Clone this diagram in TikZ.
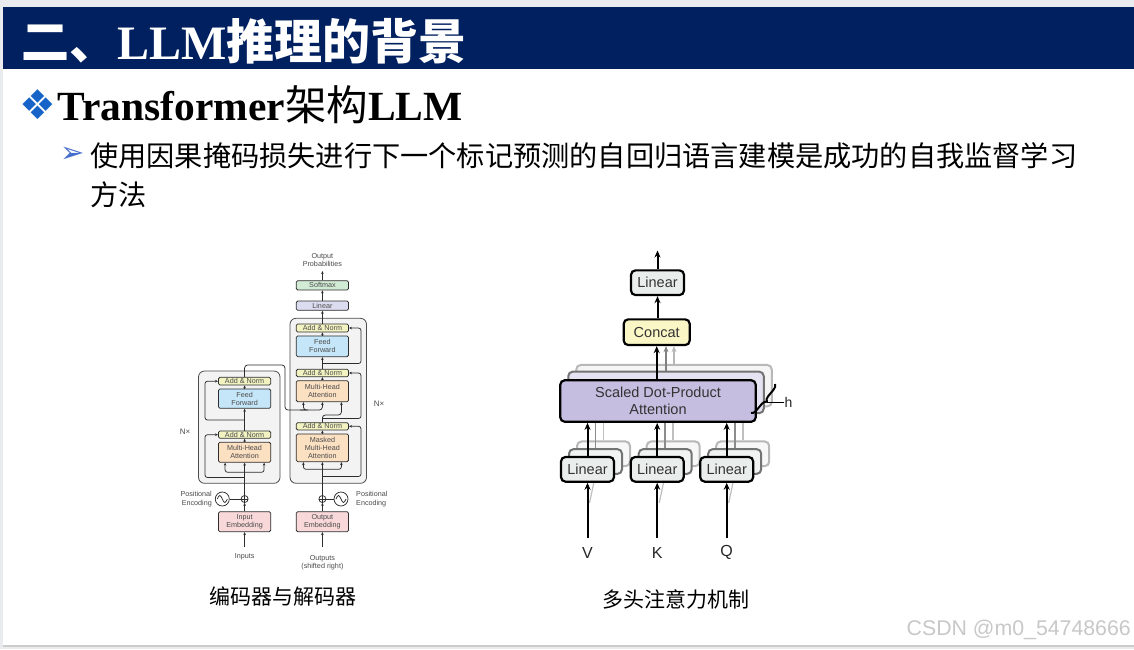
\documentclass[tikz,border=0pt]{standalone}
\usepackage{fontspec}
\setmainfont{Liberation Serif}
\newfontfamily\cjk{Noto Sans CJK SC}
\newfontfamily\sans{Liberation Sans}
\newfontfamily\dejavu{DejaVu Sans}
\usetikzlibrary{arrows.meta,decorations.pathreplacing,calc}
\definecolor{pagegray}{RGB}{233,235,238}
\definecolor{navy}{RGB}{0,32,96}
\definecolor{bulletblue}{RGB}{22,100,200}
\definecolor{arrowblue}{RGB}{70,110,205}
\definecolor{cLine}{RGB}{45,45,45}
\definecolor{cText}{RGB}{75,75,75}
\definecolor{stackfill}{RGB}{243,243,243}
\definecolor{anfill}{RGB}{242,243,193}
\definecolor{fffill}{RGB}{196,230,248}
\definecolor{mhafill}{RGB}{252,224,194}
\definecolor{embfill}{RGB}{248,216,216}
\definecolor{linfill}{RGB}{220,220,240}
\definecolor{smfill}{RGB}{210,235,212}
\definecolor{mlinfill}{RGB}{233,238,236}
\definecolor{concatfill}{RGB}{250,246,197}
\definecolor{sdpafill}{RGB}{197,190,224}
\definecolor{wmgray}{RGB}{200,200,200}
\tikzset{
  tbox/.style={draw=cLine, line width=0.75pt, rounded corners=1.5pt, minimum width=52.4pt, inner sep=0pt,
    font=\sans\fontsize{7.2}{8.2}\selectfont, text=cText, align=center},
  ttxt/.style={font=\sans\fontsize{7.2}{8.4}\selectfont, text=cText, align=center, inner sep=0pt},
  tarr/.style={draw=cLine, line width=0.75pt, -{Stealth[length=3pt,width=2.6pt]}},
  tln/.style={draw=cLine, line width=0.75pt},
  stackbox/.style={draw=cLine!85, line width=0.8pt, fill=stackfill, rounded corners=6pt, inner sep=0pt},
  mbox/.style={draw=black, line width=2.2pt, rounded corners=4.5pt, inner sep=0pt,
    font=\sans\fontsize{14.5}{17}\selectfont, text=black!80, align=center},
  mshadowA/.style={draw=black!55, line width=2pt, rounded corners=4.5pt, inner sep=0pt},
  mshadowB/.style={draw=black!28, line width=2pt, rounded corners=4.5pt, inner sep=0pt},
  marr/.style={draw=black, line width=2pt, -{Stealth[length=7pt,width=6pt]}},
}
\begin{document}
\begin{tikzpicture}[x=1pt,y=-1pt]
\useasboundingbox (0,0) rectangle (1134,649);
% page
\fill[pagegray] (0,0) rectangle (1134,649);
\fill[black!20] (2.7,8) rectangle (1134,646.5);
\fill[white] (2.7,7) rectangle (1134,645);
\fill[navy] (2.7,7) rectangle (1134,69.3);

% title
\node[anchor=west, inner sep=0pt, text=white] (title) at (21,41.5)
  {\fontsize{48}{52}\selectfont{\cjk\bfseries 二、}\textbf{LLM}{\cjk\bfseries 推理的背景}};
% heading
\node[inner sep=0pt, text=bulletblue] (dia) at (38.3,104.5) {\dejavu\fontsize{41}{41}\selectfont ❖};
\node[anchor=base west, inner sep=0pt] (head) at (57.5,120)
  {\fontsize{41.5}{44}\selectfont\bfseries Transformer{\cjk\mdseries 架构}LLM};
% bullet text
\node[inner sep=0pt, text=arrowblue] (arrowb) at (72.5,154.5) {\dejavu\fontsize{29}{29}\selectfont ➢};
\node[anchor=west, inner sep=0pt] (line1) at (90,155.5)
  {\cjk\fontsize{28.2}{28.2}\selectfont 使用因果掩码损失进行下一个标记预测的自回归语言建模是成功的自我监督学习};
\node[anchor=west, inner sep=0pt] (line2) at (90,195)
  {\cjk\fontsize{28.2}{28.2}\selectfont 方法};

% ================= Transformer =================
\node[stackbox, minimum width=81.5pt, minimum height=112.3pt] (encStack) at (239.25,427.15) {};
\node[stackbox, minimum width=76.5pt, minimum height=165pt] (decStack) at (328.25,400.8) {};

% encoder boxes
\node[tbox, fill=anfill, minimum height=7.7pt] (encAN2) at (244.6,381.2) {Add \& Norm};
\node[tbox, fill=fffill, minimum height=19.3pt] (encFF) at (244.6,398.7) {Feed\\Forward};
\node[tbox, fill=anfill, minimum height=7.3pt] (encAN1) at (244.6,434.7) {Add \& Norm};
\node[tbox, fill=mhafill, minimum height=20pt] (encMHA) at (244.6,452.3) {Multi-Head\\Attention};
\node[tbox, fill=embfill, minimum height=20pt] (inEmb) at (244.6,521.7) {Input\\Embedding};

% decoder boxes
\node[tbox, fill=smfill, minimum height=9.3pt] (softmax) at (322.4,285.3) {Softmax};
\node[tbox, fill=linfill, minimum height=9.3pt] (tlinear) at (322.4,305.7) {Linear};
\node[tbox, fill=anfill, minimum height=8pt] (decAN3) at (322.4,328) {Add \& Norm};
\node[tbox, fill=fffill, minimum height=20.7pt] (decFF) at (322.4,346.3) {Feed\\Forward};
\node[tbox, fill=anfill, minimum height=7.4pt] (decAN2) at (322.4,373) {Add \& Norm};
\node[tbox, fill=mhafill, minimum height=21pt] (decMHA) at (322.4,391.2) {Multi-Head\\Attention};
\node[tbox, fill=anfill, minimum height=7.3pt] (decAN1) at (322.4,426.3) {Add \& Norm};
\node[tbox, fill=mhafill, minimum height=27.7pt] (decMMHA) at (322.4,447.8) {Masked\\Multi-Head\\Attention};
\node[tbox, fill=embfill, minimum height=20pt] (outEmb) at (322.4,521.7) {Output\\Embedding};

% positional encodings
\node[circle, draw=cLine, line width=0.75pt, minimum size=14pt, inner sep=0pt] (encSine) at (222.3,499) {};
\node[circle, draw=cLine, line width=0.75pt, minimum size=7pt, inner sep=0pt] (encAdd) at (244.6,499) {};
\node[circle, draw=cLine, line width=0.75pt, minimum size=14pt, inner sep=0pt] (decSine) at (341,499) {};
\node[circle, draw=cLine, line width=0.75pt, minimum size=7pt, inner sep=0pt] (decAdd) at (322.4,499) {};
\draw[tln] ([xshift=-5pt]encSine.center) sin ++(2.5,-3.5) cos ++(2.5,3.5) sin ++(2.5,3.5) cos ++(2.5,-3.5);
\draw[tln] ([xshift=-5pt]decSine.center) sin ++(2.5,-3.5) cos ++(2.5,3.5) sin ++(2.5,3.5) cos ++(2.5,-3.5);
\draw[cLine, line width=0.6pt] (encAdd.north) -- (encAdd.south) (encAdd.west) -- (encAdd.east);
\draw[cLine, line width=0.6pt] (decAdd.north) -- (decAdd.south) (decAdd.west) -- (decAdd.east);
\draw[tln] (encSine.east) -- (encAdd.west);
\draw[tln] (decSine.west) -- (decAdd.east);

% labels
\node[ttxt] (outprob) at (322.4,260) {Output\\Probabilities};
\node[ttxt, align=right, anchor=east] (encPE) at (212,499.2) {Positional\\Encoding};
\node[ttxt, align=left, anchor=west] (decPE) at (356,499.2) {Positional\\Encoding};
\node[ttxt] (inputs) at (244.6,557) {Inputs};
\node[ttxt] (outputs) at (322.4,562.5) {Outputs\\(shifted right)};
\node[ttxt, font=\sans\fontsize{8}{8}\selectfont] (encN) at (185,432) {N×};
\node[ttxt, font=\sans\fontsize{8}{8}\selectfont] (decN) at (379,404) {N×};

% coordinates
\coordinate (inArr) at (244.6,547);
\coordinate (outArr) at (322.4,547);
\coordinate (probArr) at (322.4,271);
\coordinate (encFork) at (244.6,472.3);
\coordinate (decFork) at (322.4,469.3);
\coordinate (encR1) at (244.6,477.5);
\coordinate (encR2) at (244.6,420);
\coordinate (decR1) at (322.4,476.5);
\coordinate (decR2) at (322.4,418.5);
\coordinate (decR3) at (322.4,363.5);

% encoder connectors
\draw[tarr] (inArr) -- (inEmb.south);
\draw[tarr] (inEmb.north) -- (encAdd.south);
\draw[tarr] (encAdd.north) -- (encMHA.south);
\draw[tarr, rounded corners=2.5pt] (encFork) -| ([xshift=-19.5pt]encMHA.south);
\draw[tarr, rounded corners=2.5pt] (encFork) -| ([xshift=19.5pt]encMHA.south);
\draw[tarr, rounded corners=2.5pt] (encR1) -| (205,434.7) -- (encAN1.west);
\draw[tarr] (encMHA.north) -- (encAN1.south);
\draw[tarr] (encAN1.north) -- (encFF.south);
\draw[tarr, rounded corners=2.5pt] (encR2) -| (205,381.2) -- (encAN2.west);
\draw[tarr] (encFF.north) -- (encAN2.south);
% encoder output into decoder
\draw[tarr, rounded corners=3pt] (encAN2.north) |- (285,365) |- (310,410) -| ([xshift=-19pt]decMHA.south);
\draw[tarr, rounded corners=3pt] (300,410) -| (decMHA.south);

% decoder connectors
\draw[tarr] (outArr) -- (outEmb.south);
\draw[tarr] (outEmb.north) -- (decAdd.south);
\draw[tarr] (decAdd.north) -- (decMMHA.south);
\draw[tarr, rounded corners=2.5pt] (decFork) -| ([xshift=-19pt]decMMHA.south);
\draw[tarr, rounded corners=2.5pt] (decFork) -| ([xshift=19pt]decMMHA.south);
\draw[tarr, rounded corners=2.5pt] (decR1) -| (361,426.3) -- (decAN1.east);
\draw[tarr] (decMMHA.north) -- (decAN1.south);
\draw[tarr, rounded corners=3pt] (decAN1.north) -- (322.4,415) -- (341.4,415) -- ([xshift=19pt]decMHA.south);
\draw[tarr, rounded corners=2.5pt] (decR2) -| (361,373) -- (decAN2.east);
\draw[tarr] (decMHA.north) -- (decAN2.south);
\draw[tarr] (decAN2.north) -- (decFF.south);
\draw[tarr, rounded corners=2.5pt] (decR3) -| (361,328) -- (decAN3.east);
\draw[tarr] (decFF.north) -- (decAN3.south);
\draw[tarr] (decAN3.north) -- (tlinear.south);
\draw[tarr] (tlinear.north) -- (softmax.south);
\draw[tarr] (softmax.north) -- (probArr);

% ================= Multi-head attention =================
% shadows of SDPA
\node[mshadowB, fill=black!4, minimum width=195.5pt, minimum height=41.5pt] (sdpa3) at (674,385.7) {};
\node[mshadowA, fill=sdpafill!45, minimum width=195.5pt, minimum height=41.5pt] (sdpa2) at (666,392.4) {};
% shadows of linears
\foreach \n/\x in {V/587.5,K/657.2,Q/726.7}{
  \node[mshadowB, fill=black!3, minimum width=53pt, minimum height=24.7pt] (lin\n3) at (\x+16,453.8) {};
  \node[mshadowA, fill=mlinfill!70, minimum width=53pt, minimum height=24.7pt] (lin\n2) at (\x+8,461.5) {};
}
% gray arrows
\foreach \n in {V,K,Q}{
  \draw[draw=black!45, line width=1.6pt, -{Stealth[length=6pt,width=5pt]}] (lin\n2.north) -- (lin\n2.north |- sdpa2.south);
  \draw[draw=black!25, line width=1.6pt, -{Stealth[length=6pt,width=5pt]}] (lin\n3.north) -- (lin\n3.north |- sdpa3.south);
  \draw[draw=black!25, line width=1.2pt] ($(lin\n2.south)+(-6,28)$) -- (lin\n2.south);
}
\node[mbox, fill=concatfill, minimum width=66pt, minimum height=25.7pt] (concat) at (656.7,332.2) {Concat};
\draw[draw=black!50, line width=1.6pt, -{Stealth[length=6pt,width=5pt]}] ($(sdpa2.north -| concat.south)+(9.3,0)$) -- ($(concat.south)+(9.3,0)$);
\draw[draw=black!28, line width=1.6pt, -{Stealth[length=6pt,width=5pt]}] ($(sdpa3.north -| concat.south)+(17.3,0)$) -- ($(concat.south)+(17.3,0)$);

% front boxes
\node[mbox, fill=sdpafill, minimum width=195.5pt, minimum height=41.5pt] (sdpa) at (658,401) {Scaled Dot-Product\\Attention};
\node[mbox, fill=mlinfill, minimum width=53pt, minimum height=24.7pt] (mlinear) at (657.5,282.7) {Linear};
\node[mbox, fill=mlinfill, minimum width=53pt, minimum height=24.7pt] (linV) at (587.5,469.3) {Linear};
\node[mbox, fill=mlinfill, minimum width=53pt, minimum height=24.7pt] (linK) at (657.2,469.3) {Linear};
\node[mbox, fill=mlinfill, minimum width=53pt, minimum height=24.7pt] (linQ) at (726.7,469.3) {Linear};

% labels V K Q
\node[inner sep=0pt, font=\sans\fontsize{16}{16}\selectfont, text=black!85] (lblV) at (587.5,552.7) {V};
\node[inner sep=0pt, font=\sans\fontsize{16}{16}\selectfont, text=black!85] (lblK) at (657.2,552.7) {K};
\node[inner sep=0pt, font=\sans\fontsize{16}{16}\selectfont, text=black!85] (lblQ) at (726.7,552.7) {Q};
\coordinate (inV) at (587.5,538.3);
\coordinate (inK) at (657.2,538.3);
\coordinate (inQ) at (726.7,538.3);
\coordinate (mOut) at (657.5,250.5);

% black arrows
\draw[marr] (inV) -- (linV.south);
\draw[marr] (inK) -- (linK.south);
\draw[marr] (inQ) -- (linQ.south);
\draw[marr] (linV.north) -- (linV.north |- sdpa.south);
\draw[marr] (linK.north) -- (linK.north |- sdpa.south);
\draw[marr] (linQ.north) -- (linQ.north |- sdpa.south);
\draw[marr] (sdpa.north -| concat.south) -- (concat.south);
\draw[marr] (concat.north -| mlinear.south) -- (mlinear.south);
\draw[marr] (mlinear.north) -- (mOut);

% brace h
\draw[line width=2pt, decorate, decoration={brace, amplitude=5pt, mirror}] (751,413) -- (775,384);
\coordinate (braceTip) at (767,402.5);
\node[inner sep=0pt, font=\sans\fontsize{14}{14}\selectfont, text=black!85] (hlbl) at (788.5,402.5) {h};
\draw[black, line width=1.2pt] (braceTip) -- (hlbl.west);

% captions
\node[inner sep=0pt] (cap1) at (283,596.5) {\cjk\fontsize{21}{21}\selectfont 编码器与解码器};
\node[inner sep=0pt] (cap2) at (675.5,599.5) {\cjk\fontsize{21}{21}\selectfont 多头注意力机制};

% watermark
\node[anchor=east, inner sep=0pt, text=wmgray, font=\sans\fontsize{21.3}{21.3}\selectfont] (wm) at (1131,629.5) {CSDN @m0\_54748666};
\end{tikzpicture}
\end{document}
